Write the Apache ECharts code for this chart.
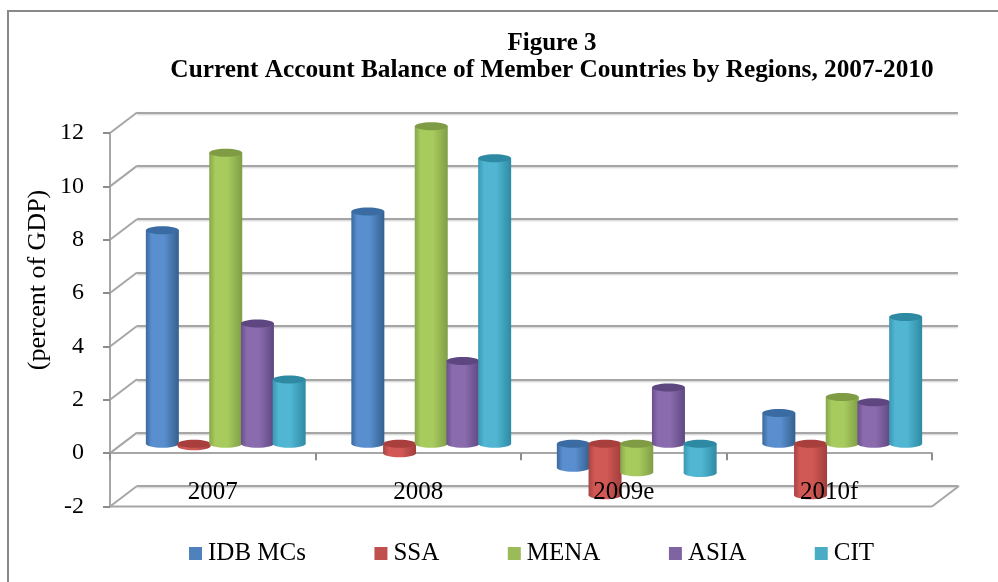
<!DOCTYPE html>
<html><head><meta charset="utf-8">
<style>html,body{margin:0;padding:0;background:#fff}#c{width:998px;height:582px}</style>
<script src="https://cdn.jsdelivr.net/npm/echarts@6/dist/echarts.min.js"></script>
</head><body><div id="c"></div>
<script>
const categories = ['2007','2008','2009e','2010f'];
const idb  = [8.0, 8.7, -0.9, 1.15];
const ssa  = [-0.1, -0.36, -1.93, -1.93];
const mena = [10.9, 11.9, -1.07, 1.75];
const asia = [4.5, 3.1, 2.1, 1.55];
const cit  = [2.4, 10.7, -1.1, 4.75];
const names = ['IDB MCs','SSA','MENA','ASIA','CIT'];
const yTicks = [-2,0,2,4,6,8,10,12];
const serif = 'Liberation Serif';
const palette = [
  {legend:'#4f81bd', edgeL:'#3a689e', mid:'#5a8fcf', edgeR:'#33608f', top:'#3a6ca3'},
  {legend:'#c0504d', edgeL:'#a84442', mid:'#d25855', edgeR:'#a13f3c', top:'#a83f3c'},
  {legend:'#9bbb59', edgeL:'#86a64b', mid:'#a8cb5e', edgeR:'#7f9e46', top:'#7f9c45'},
  {legend:'#8064a2', edgeL:'#6a4f8c', mid:'#8a6cae', edgeR:'#5f4882', top:'#5e4680'},
  {legend:'#4bacc6', edgeL:'#3a98b2', mid:'#50b6d2', edgeR:'#2f8aa4', top:'#2e8aa3'}
];
const FRONT = {left:110, width:822, top:133, height:373.5};
const DEPTH = {dx:27, dy:-20.5};
const BAR = {dx:13, dy:-9.5};
const axisGray = '#a6a6a6';
const barStep = 31.7/205.5, barWidth = 33/205.5, ry = 4;

function cylinder(i, values) {
  return {
    type:'custom', name:names[i], xAxisIndex:2, yAxisIndex:2, z:3+i,
    itemStyle:{color:palette[i].legend},
    encode:{x:0,y:1},
    data:values.map((v,k)=>[k,v]),
    renderItem(params, api){
      const c = palette[i];
      const band = api.size([1,0])[0];
      const w = band*barWidth;
      const p = api.coord([api.value(0), api.value(1)]);
      const z = api.coord([api.value(0), 0]);
      const cx = p[0] + (i-2)*band*barStep;
      const yTop = Math.min(p[1], z[1]), yBot = Math.max(p[1], z[1]);
      const grad = new echarts.graphic.LinearGradient(0,0,1,0,[
        {offset:0,color:c.edgeL},{offset:.18,color:c.mid},{offset:.55,color:c.mid},{offset:1,color:c.edgeR}]);
      return {type:'group',children:[
        {type:'ellipse',shape:{cx,cy:yBot,rx:w/2,ry},style:{fill:grad}},
        {type:'rect',shape:{x:cx-w/2,y:yTop,width:w,height:yBot-yTop},style:{fill:grad}},
        {type:'ellipse',shape:{cx,cy:yTop,rx:w/2,ry},style:{fill:c.top}}
      ]};
    }
  };
}

const frameSeries = {
  type:'custom', xAxisIndex:0, yAxisIndex:0, silent:true, z:1,
  data:yTicks.map(t=>[0,t]),
  renderItem(params, api){
    const t = api.value(1);
    const band = api.size([1,0])[0];
    const p = api.coord([0,t]);
    const left = p[0]-band/2;
    const style = {stroke:axisGray,lineWidth:2};
    const ch = [{type:'line',shape:{x1:left,y1:p[1],x2:left+DEPTH.dx,y2:p[1]+DEPTH.dy},style}];
    if (t===-2){
      const right = left+band*categories.length;
      ch.push({type:'line',shape:{x1:left,y1:p[1],x2:right,y2:p[1]},style});
      ch.push({type:'line',shape:{x1:right,y1:p[1],x2:right+DEPTH.dx,y2:p[1]+DEPTH.dy},style});
    }
    return {type:'group',children:ch};
  }
};

const yBase = {type:'value',min:-2,max:12,interval:2};
const hiddenX = {type:'category',data:categories,show:false};
const option = {
  animation:false,
  backgroundColor:'#fff',
  title:[
    {text:'Figure 3',left:547,top:26,textAlign:'center',textStyle:{fontFamily:serif,fontWeight:'bold',fontSize:25,color:'#000'}},
    {text:'Current Account Balance of Member Countries by Regions, 2007-2010',left:547,top:53,textAlign:'center',textStyle:{fontFamily:serif,fontWeight:'bold',fontSize:25.3,color:'#000'}}
  ],
  legend:{
    data:names.map(n=>({name:n,icon:'rect'})),
    left:184, top:536, itemWidth:13, itemHeight:13, itemGap:68.5,
    textStyle:{fontFamily:serif,fontSize:25,color:'#000',padding:[0,0,0,1]}
  },
  graphic:[
    {type:'rect',shape:{x:8,y:11,width:1100,height:700},style:{fill:'none',stroke:'#898989',lineWidth:2},silent:true,z:-1},
    {type:'text',x:38,y:280,rotation:Math.PI/2,style:{text:'(percent of GDP)',font:'26px "Liberation Serif"',fill:'#000',textAlign:'center',textVerticalAlign:'middle'},silent:true}
  ],
  grid:[
    {left:FRONT.left,width:FRONT.width,top:FRONT.top,height:FRONT.height},
    {left:FRONT.left+DEPTH.dx,width:FRONT.width-1,top:FRONT.top+DEPTH.dy,height:FRONT.height},
    {left:FRONT.left+BAR.dx,width:FRONT.width,top:FRONT.top+BAR.dy,height:FRONT.height}
  ],
  xAxis:[
    {gridIndex:0,type:'category',position:'bottom',data:categories,z:1,
      axisLine:{onZero:true,lineStyle:{color:axisGray,width:2}},
      axisTick:{show:true,length:7,inside:false,lineStyle:{color:'#8c8c8c',width:2}},
      axisLabel:{show:false},splitLine:{show:false}},
    {gridIndex:1,...hiddenX},
    {gridIndex:2,...hiddenX},
    {gridIndex:0,type:'category',position:'bottom',data:categories,z:20,
      axisLine:{show:false,onZero:false},axisTick:{show:false},
      axisLabel:{show:true,margin:-27,fontFamily:serif,fontSize:25,color:'#000'}}
  ],
  yAxis:[
    {gridIndex:0,...yBase,z:1,
      axisLine:{show:true,lineStyle:{color:axisGray,width:2}},
      axisTick:{show:true,length:7,lineStyle:{color:'#8c8c8c',width:2}},
      axisLabel:{margin:26,fontFamily:serif,fontSize:24,color:'#000',padding:[4,0,0,0]},
      splitLine:{show:false}},
    {gridIndex:1,...yBase,axisLine:{show:false},axisTick:{show:false},axisLabel:{show:false},
      splitLine:{show:true,lineStyle:{color:axisGray,width:2,shadowColor:'rgba(0,0,0,.2)',shadowBlur:2,shadowOffsetY:1}}},
    {gridIndex:2,...yBase,show:false,splitLine:{show:false}}
  ],
  series:[frameSeries, ...[idb,ssa,mena,asia,cit].map((v,i)=>cylinder(i,v))]
};
echarts.init(document.getElementById('c'),null,{renderer:'canvas'}).setOption(option);
</script></body></html>
